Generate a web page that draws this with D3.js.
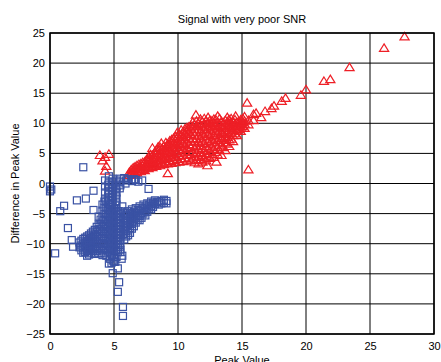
<!DOCTYPE html>
<html>
<head>
<meta charset="utf-8">
<script src="https://cdn.jsdelivr.net/npm/d3@7"></script>
<style>
  body { margin: 0; background: #fff; }
  text { font-family: Arial, "Liberation Sans", sans-serif; }
</style>
</head>
<body>
<script>
// Chart text and tick values
const title = 'Signal with very poor SNR';
const xLabel = 'Peak Value';
const yLabel = 'Difference in Peak Value';
const xTicks = [0, 5, 10, 15, 20, 25, 30];
const yTicks = [-25, -20, -15, -10, -5, 0, 5, 10, 15, 20, 25];

// Red triangles: [peak value, difference]
const redPoints = [
  [6.2, 1.4], [6.2, 1.9], [6.5, 1.5], [6.5, 2.1], [6.5, 2.6], [6.8, 1.8], [6.8, 2.4], [6.8, 3.0],
  [7.1, 2.0], [7.1, 2.7], [7.1, 3.3], [7.4, 2.2], [7.4, 2.9], [7.4, 3.6],
  [7.7, 2.5], [7.7, 3.2], [7.7, 3.9], [7.7, 4.4], [8.0, 2.7], [8.0, 3.4], [8.0, 4.1], [8.0, 4.7], [8.0, 5.9],
  [8.3, 2.9], [8.3, 3.6], [8.3, 4.3], [8.3, 5.0], [8.3, 5.5],
  [8.6, 3.0], [8.6, 3.8], [8.6, 4.6], [8.6, 5.3], [8.6, 6.0], [8.7, 6.7],
  [8.9, 3.2], [8.9, 4.0], [8.9, 4.8], [8.9, 5.5], [8.9, 6.2],
  [9.2, 3.3], [9.2, 4.2], [9.2, 5.0], [9.2, 5.8], [9.2, 6.5], [9.2, 1.7],
  [9.5, 3.4], [9.5, 4.3], [9.5, 5.2], [9.5, 6.0], [9.5, 6.8], [9.5, 7.3],
  [9.8, 3.5], [9.8, 4.4], [9.8, 5.4], [9.8, 6.3], [9.8, 7.1], [9.8, 7.8],
  [10.1, 3.6], [10.1, 4.6], [10.1, 5.6], [10.1, 6.5], [10.1, 7.4], [10.1, 8.2],
  [10.4, 3.7], [10.4, 4.7], [10.4, 5.7], [10.4, 6.7], [10.4, 7.7], [10.4, 8.6],
  [10.7, 3.8], [10.7, 4.8], [10.7, 5.9], [10.7, 6.9], [10.7, 7.9], [10.7, 8.8], [10.7, 9.3],
  [11.0, 3.8], [11.0, 4.9], [11.0, 6.0], [11.0, 7.1], [11.0, 8.2], [11.0, 9.1], [11.0, 9.6],
  [11.3, 3.5], [11.3, 4.6], [11.3, 5.8], [11.3, 7.0], [11.3, 8.1], [11.3, 9.0], [11.3, 9.8], [11.4, 11.4],
  [11.6, 3.3], [11.6, 4.4], [11.6, 5.6], [11.6, 6.8], [11.6, 7.9], [11.6, 9.0], [11.6, 10.0],
  [11.9, 3.6], [11.9, 4.7], [11.9, 5.9], [11.9, 7.1], [11.9, 8.3], [11.9, 9.4], [11.9, 10.3],
  [12.2, 3.8], [12.2, 5.0], [12.2, 6.2], [12.2, 7.4], [12.2, 8.6], [12.2, 9.6], [12.2, 10.4], [12.3, 3.0],
  [12.5, 4.2], [12.5, 5.4], [12.5, 6.6], [12.5, 7.8], [12.5, 8.9], [12.5, 9.8], [12.5, 10.5],
  [12.8, 4.4], [12.8, 5.7], [12.8, 6.9], [12.8, 8.0], [12.8, 9.1], [12.8, 10.0], [12.8, 10.7], [13.0, 3.6],
  [13.1, 4.8], [13.1, 6.0], [13.1, 7.2], [13.1, 8.3], [13.1, 9.3], [13.1, 10.2], [13.1, 11.2],
  [13.4, 4.7], [13.4, 6.3], [13.4, 7.5], [13.4, 8.5], [13.4, 9.5], [13.4, 10.3],
  [13.7, 5.5], [13.7, 6.8], [13.7, 7.8], [13.7, 8.8], [13.7, 9.7], [13.7, 10.5],
  [14.0, 6.2], [14.0, 7.3], [14.0, 8.3], [14.0, 9.2], [14.0, 10.0], [14.0, 10.6],
  [14.3, 7.0], [14.3, 8.0], [14.3, 8.8], [14.3, 9.6], [14.3, 10.3],
  [14.6, 8.0], [14.6, 8.8], [14.6, 9.5], [14.6, 10.2], [14.5, 11.2],
  [14.9, 8.7], [14.9, 9.4], [14.9, 10.0], [14.9, 10.6],
  [15.2, 9.2], [15.2, 9.9], [15.2, 10.4], [15.2, 11.1],
  [15.5, 9.8], [15.5, 10.5], [15.4, 13.4], [15.5, 2.3],
  [15.9, 10.5], [15.9, 11.5], [16.1, 11.7], [16.5, 11.0], [16.8, 12.0], [17.3, 12.5], [17.5, 12.9],
  [18.1, 13.7], [18.4, 14.2], [19.6, 14.7], [20.0, 15.6], [21.4, 17.0], [21.9, 17.3],
  [23.4, 19.3], [26.1, 22.5], [27.7, 24.4],
  [3.9, 4.7], [4.3, 4.4], [4.6, 4.9], [4.4, 2.9], [4.3, 2.1], [4.1, 3.8],
  // denser fill of the main band
  [6.35, 1.7], [6.35, 2.3], [6.65, 1.8], [6.65, 2.4], [6.65, 2.8], [6.95, 2.1], [6.95, 2.7], [6.95, 3.2],
  [7.25, 2.4], [7.25, 3.0], [7.25, 3.5], [7.55, 2.6], [7.55, 3.3], [7.55, 4.0],
  [7.85, 2.8], [7.85, 3.5], [7.85, 4.2], [7.85, 4.8], [8.15, 3.0], [8.15, 3.7], [8.15, 4.4], [8.15, 5.1],
  [8.45, 3.2], [8.45, 3.9], [8.45, 4.7], [8.45, 5.4], [8.45, 6.1],
  [8.75, 3.4], [8.75, 4.2], [8.75, 5.0], [8.75, 5.8],
  [9.05, 3.6], [9.05, 4.4], [9.05, 5.3], [9.05, 6.1], [9.05, 6.8],
  [9.35, 3.7], [9.35, 4.6], [9.35, 5.5], [9.35, 6.4], [9.35, 7.1],
  [9.65, 3.9], [9.65, 4.8], [9.65, 5.8], [9.65, 6.7], [9.65, 7.5],
  [9.95, 4.0], [9.95, 5.0], [9.95, 6.0], [9.95, 6.9], [9.95, 7.8], [9.95, 8.5],
  [10.25, 4.1], [10.25, 5.1], [10.25, 6.1], [10.25, 7.1], [10.25, 8.0], [10.25, 8.9],
  [10.55, 4.2], [10.55, 5.3], [10.55, 6.3], [10.55, 7.3], [10.55, 8.3], [10.55, 9.1],
  [10.85, 4.3], [10.85, 5.4], [10.85, 6.5], [10.85, 7.6], [10.85, 8.6], [10.85, 9.4],
  [11.15, 4.1], [11.15, 5.2], [11.15, 6.4], [11.15, 7.5], [11.15, 8.6], [11.15, 9.5], [11.15, 10.2],
  [11.45, 3.9], [11.45, 5.0], [11.45, 6.2], [11.45, 7.4], [11.45, 8.5], [11.45, 9.5], [11.45, 10.4],
  [11.75, 4.0], [11.75, 5.2], [11.75, 6.4], [11.75, 7.6], [11.75, 8.8], [11.75, 9.8], [11.75, 10.7],
  [12.05, 4.3], [12.05, 5.5], [12.05, 6.7], [12.05, 7.9], [12.05, 9.0], [12.05, 10.0], [12.05, 10.8],
  [12.35, 4.6], [12.35, 5.8], [12.35, 7.0], [12.35, 8.2], [12.35, 9.3], [12.35, 10.2], [12.35, 11.0],
  [12.65, 4.9], [12.65, 6.1], [12.65, 7.3], [12.65, 8.4], [12.65, 9.5], [12.65, 10.4],
  [12.95, 5.2], [12.95, 6.4], [12.95, 7.6], [12.95, 8.7], [12.95, 9.7], [12.95, 10.6],
  [13.25, 5.5], [13.25, 6.8], [13.25, 7.9], [13.25, 8.9], [13.25, 9.9], [13.25, 10.8],
  [13.55, 6.0], [13.55, 7.2], [13.55, 8.2], [13.55, 9.2], [13.55, 10.1],
  [13.85, 6.6], [13.85, 7.7], [13.85, 8.6], [13.85, 9.5], [13.85, 10.3], [13.85, 11.0],
  [14.15, 7.4], [14.15, 8.4], [14.15, 9.2], [14.15, 10.0], [14.15, 10.8],
  [14.45, 8.3], [14.45, 9.1], [14.45, 9.9], [14.45, 10.6],
  [14.75, 9.0], [14.75, 9.7], [14.75, 10.3], [15.05, 9.5], [15.05, 10.2], [15.05, 10.8]
];

// Blue squares: [peak value, difference]
const bluePoints = [
  [0.0, -0.5], [0.1, -1.0], [0.0, -1.3], [0.4, -11.6], [0.8, -4.6], [1.1, -3.7], [1.4, -7.4],
  [1.7, -9.4], [1.8, -10.5], [2.1, -2.8], [2.8, -2.5], [2.6, 2.7], [3.4, -1.2], [3.4, -4.4], [3.8, -5.5],
  [2.3, -9.8], [2.3, -10.6],
  [2.6, -9.2], [2.6, -10.0], [2.6, -10.8], [2.6, -11.5],
  [2.9, -8.8], [2.9, -9.6], [2.9, -10.4], [2.9, -11.2], [2.9, -12.0],
  [3.2, -8.3], [3.2, -9.1], [3.2, -9.9], [3.2, -10.7], [3.2, -11.5],
  [3.5, -7.7], [3.5, -8.5], [3.5, -9.3], [3.5, -10.1], [3.5, -10.9], [3.5, -11.7],
  [3.8, -6.8], [3.8, -7.6], [3.8, -8.4], [3.8, -9.2], [3.8, -10.0], [3.8, -10.8], [3.8, -11.6],
  [4.1, -3.5], [4.1, -4.5], [4.1, -5.5], [4.1, -6.3], [4.1, -7.1], [4.1, -7.9], [4.1, -8.7],
  [4.1, -9.5], [4.1, -10.3], [4.1, -11.1], [4.1, -11.9],
  [4.3, 0.5], [4.3, -0.5], [4.3, -1.5], [4.3, -2.5],
  [4.4, -3.0], [4.4, -4.0], [4.4, -5.0], [4.4, -6.0], [4.4, -7.0], [4.4, -8.0], [4.4, -9.0],
  [4.4, -10.0], [4.4, -11.0], [4.4, -12.0],
  [4.6, 1.2], [4.6, 0.3], [4.6, -0.7], [4.6, -1.7], [4.6, -2.7],
  [4.7, -3.6], [4.7, -4.6], [4.7, -5.6], [4.7, -6.6], [4.7, -7.6], [4.7, -8.6], [4.7, -9.6],
  [4.7, -10.6], [4.7, -11.6], [4.7, -12.5],
  [4.9, 0.8], [4.9, -0.2], [4.9, -1.2], [4.9, -2.2], [4.9, -3.2],
  [5.0, -4.2], [5.0, -5.2], [5.0, -6.2], [5.0, -7.2], [5.0, -8.2], [5.0, -9.2], [5.0, -10.2],
  [5.0, -11.2], [5.0, -12.2], [5.0, -13.0],
  [5.2, 0.5], [5.2, -0.5], [5.2, -1.5], [5.2, -2.5], [5.2, -3.5],
  [5.3, -4.6], [5.3, -5.6], [5.3, -6.6], [5.3, -7.6], [5.3, -8.6], [5.3, -9.6], [5.3, -10.6], [5.3, -11.4],
  [5.5, 0.8], [5.5, -0.3], [5.5, -5.0], [5.5, -6.0], [5.5, -7.0], [5.5, -8.0], [5.5, -9.0], [5.5, -10.0], [5.5, -11.0],
  [5.8, 0.9], [5.8, -4.8], [5.8, -5.7], [5.8, -6.6], [5.8, -7.5], [5.8, -8.4], [5.8, -9.3],
  [6.1, 0.7], [6.1, -4.6], [6.1, -5.4], [6.1, -6.2], [6.1, -7.0], [6.1, -7.8], [6.1, -8.6],
  [6.4, 0.4], [6.4, -4.3], [6.4, -5.1], [6.4, -5.9], [6.4, -6.7], [6.4, -7.5],
  [6.7, 0.6], [6.7, -4.1], [6.7, -4.9], [6.7, -5.7], [6.7, -6.5],
  [7.0, -3.8], [7.0, -4.6], [7.0, -5.4], [7.0, -6.1],
  [7.3, -3.5], [7.3, -4.3], [7.3, -5.0],
  [7.6, -3.3], [7.6, -4.0], [7.6, -4.7], [7.7, -0.9],
  [7.9, -3.0], [7.9, -3.7], [7.9, -4.3],
  [8.2, -2.8], [8.2, -3.4], [8.5, -3.0], [8.5, -3.5], [8.9, -2.7], [8.9, -3.2], [9.1, -3.3], [9.1, -2.9],
  [5.2, -12.2], [5.5, -11.4], [5.1, -13.0], [4.8, -13.2], [5.3, -14.1], [4.9, -14.9], [5.4, -16.4],
  [5.3, -18.0], [5.7, -20.5], [5.7, -22.0], [4.9, -12.8], [5.6, -12.5], [4.6, -13.3],
  // denser fill of the core
  [2.45, -9.5], [2.45, -10.3], [2.45, -11.1], [2.75, -9.0], [2.75, -9.8], [2.75, -10.6], [2.75, -11.4],
  [3.05, -8.6], [3.05, -9.4], [3.05, -10.2], [3.05, -11.0], [3.05, -11.8],
  [3.35, -8.0], [3.35, -8.8], [3.35, -9.6], [3.35, -10.4], [3.35, -11.2],
  [3.65, -7.2], [3.65, -8.0], [3.65, -8.8], [3.65, -9.6], [3.65, -10.4], [3.65, -11.2],
  [3.95, -6.0], [3.95, -6.8], [3.95, -7.6], [3.95, -8.4], [3.95, -9.2], [3.95, -10.0], [3.95, -10.8], [3.95, -11.6],
  [4.25, -3.0], [4.25, -4.0], [4.25, -5.0], [4.25, -6.0], [4.25, -6.8], [4.25, -7.6], [4.25, -8.4],
  [4.25, -9.2], [4.25, -10.0], [4.25, -10.8], [4.25, -11.6],
  [4.55, -0.2], [4.55, -1.2], [4.55, -2.2], [4.55, -3.3], [4.55, -4.3], [4.55, -5.3], [4.55, -6.3],
  [4.55, -7.3], [4.55, -8.3], [4.55, -9.3], [4.55, -10.3], [4.55, -11.3],
  [4.85, 0.3], [4.85, -0.7], [4.85, -1.7], [4.85, -2.7], [4.85, -3.9], [4.85, -4.9], [4.85, -5.9],
  [4.85, -6.9], [4.85, -7.9], [4.85, -8.9], [4.85, -9.9], [4.85, -10.9], [4.85, -11.9],
  [5.15, 0.0], [5.15, -1.0], [5.15, -2.0], [5.15, -3.0], [5.15, -4.1], [5.15, -5.1], [5.15, -6.1],
  [5.15, -7.1], [5.15, -8.1], [5.15, -9.1], [5.15, -10.1], [5.15, -11.1],
  [5.45, 0.3], [5.45, -0.8], [5.45, -4.6], [5.45, -5.5], [5.45, -6.5], [5.45, -7.5], [5.45, -8.5],
  [5.45, -9.5], [5.45, -10.5], [5.65, -3.8], [5.65, -12.0],
  [5.95, 0.5], [5.95, -5.2], [5.95, -6.1], [5.95, -7.0], [5.95, -7.9], [5.95, -8.8], [5.9, 0.0],
  [6.25, -4.9], [6.25, -5.8], [6.25, -6.6], [6.25, -7.4], [6.25, -8.2],
  [6.55, 0.7], [6.55, -4.7], [6.55, -5.5], [6.55, -6.3], [6.55, -7.1],
  [6.85, -4.4], [6.85, -5.2], [6.85, -6.0], [6.9, 0.3], [7.2, 0.5],
  [7.15, -4.1], [7.15, -4.9], [7.15, -5.7], [7.45, -3.8], [7.45, -4.6], [7.45, -5.3],
  [7.75, -3.5], [7.75, -4.2], [8.05, -3.2], [8.05, -3.9], [8.35, -3.1], [8.7, -3.3], [8.7, -2.9]
];

const W = 441, H = 362;
const margin = { top: 33, right: 7, bottom: 28, left: 50 };
const width = W - margin.left - margin.right;
const height = H - margin.top - margin.bottom;

const x = d3.scaleLinear().domain([0, 30]).range([0, width]);
const y = d3.scaleLinear().domain([-25, 25]).range([height, 0]);

const svg = d3.select('body').append('svg')
  .attr('width', W)
  .attr('height', H);

const main = svg.append('g')
  .attr('transform', `translate(${margin.left},${margin.top})`);

// Grid lines
main.append('g').selectAll('line')
  .data(xTicks)
  .join('line')
  .attr('x1', d => x(d)).attr('x2', d => x(d))
  .attr('y1', 0).attr('y2', height)
  .attr('stroke', '#000').attr('stroke-width', 1);

main.append('g').selectAll('line')
  .data(yTicks)
  .join('line')
  .attr('x1', 0).attr('x2', width)
  .attr('y1', d => y(d)).attr('y2', d => y(d))
  .attr('stroke', '#000').attr('stroke-width', 1);

// Markers
const red = '#ee1f26';
const blue = '#3a52a4';

main.append('g').selectAll('path')
  .data(redPoints)
  .join('path')
  .attr('transform', d => `translate(${x(d[0])},${y(d[1])})`)
  .attr('d', 'M0,-4.2L4.6,3.3L-4.6,3.3Z')
  .attr('fill', 'none')
  .attr('stroke', red)
  .attr('stroke-width', 1.2);

main.append('g').selectAll('rect')
  .data(bluePoints)
  .join('rect')
  .attr('x', d => x(d[0]) - 3.5)
  .attr('y', d => y(d[1]) - 3.5)
  .attr('width', 7).attr('height', 7)
  .attr('fill', 'none')
  .attr('stroke', blue)
  .attr('stroke-width', 1.2);

// Axes (MATLAB style: no outer ticks, box around)
const xAxis = d3.axisBottom(x).tickValues(xTicks).tickSize(0).tickPadding(8);
const yAxis = d3.axisLeft(y).tickValues(yTicks).tickSize(0).tickPadding(5);

main.append('g')
  .attr('transform', `translate(0,${height})`)
  .call(xAxis)
  .call(g => g.select('.domain').remove())
  .selectAll('text').attr('font-size', 11).attr('fill', '#000')
  .attr('font-family', 'Arial, "Liberation Sans", sans-serif');

main.append('g')
  .call(yAxis)
  .call(g => g.select('.domain').remove())
  .selectAll('text').attr('font-size', 11).attr('fill', '#000')
  .attr('font-family', 'Arial, "Liberation Sans", sans-serif');

main.append('rect')
  .attr('x', 0).attr('y', 0)
  .attr('width', width).attr('height', height)
  .attr('fill', 'none')
  .attr('stroke', '#000')
  .attr('stroke-width', 1.5);

// Title and labels
svg.append('text')
  .attr('x', margin.left + width / 2)
  .attr('y', 23)
  .attr('text-anchor', 'middle')
  .attr('font-size', 11)
  .text(title);

svg.append('text')
  .attr('x', margin.left + width / 2)
  .attr('y', 364)
  .attr('text-anchor', 'middle')
  .attr('font-size', 11)
  .text(xLabel);

svg.append('text')
  .attr('transform', `translate(19,${margin.top + height / 2}) rotate(-90)`)
  .attr('text-anchor', 'middle')
  .attr('font-size', 11)
  .text(yLabel);
</script>
</body>
</html>
